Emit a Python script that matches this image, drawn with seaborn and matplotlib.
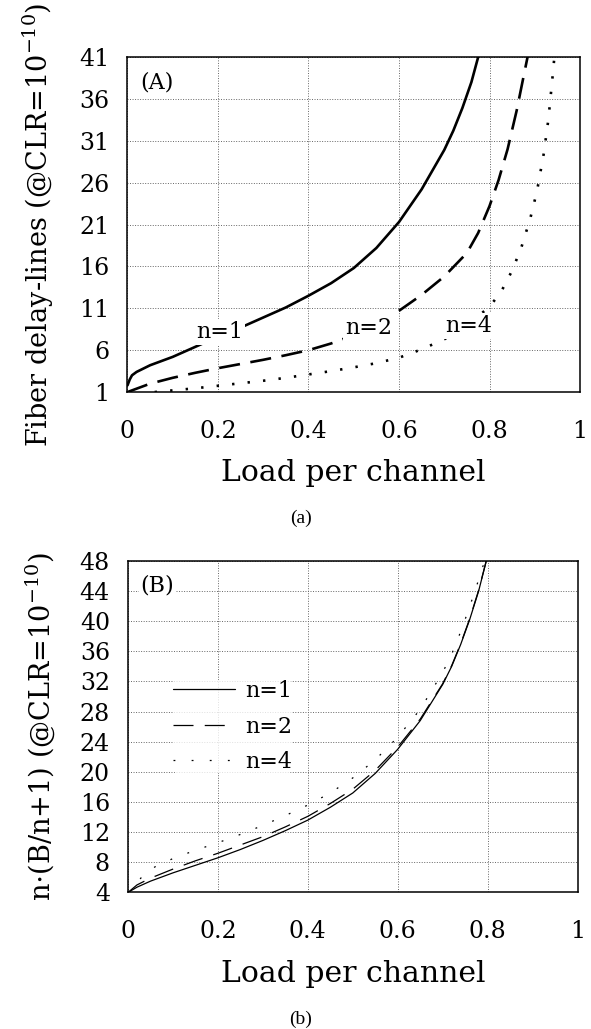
import numpy as np
import pandas as pd
import matplotlib
matplotlib.use("Agg")
import matplotlib.pyplot as plt
import seaborn as sns

# ---------------- data ----------------
ticks_x = [0, 0.2, 0.4, 0.6, 0.8, 1]
ticklabels_x = ["0", "0.2", "0.4", "0.6", "0.8", "1"]
ticks_a = [1, 6, 11, 16, 21, 26, 31, 36, 41]
ticks_b = [4, 8, 12, 16, 20, 24, 28, 32, 36, 40, 44, 48]

# Panel (A): fiber delay-lines vs load
a_x_n1 = [0, 0.005, 0.01, 0.02, 0.035, 0.05, 0.075, 0.1, 0.125, 0.15, 0.2, 0.25,
          0.3, 0.35, 0.4, 0.45, 0.5, 0.55, 0.6, 0.65, 0.7, 0.72, 0.74, 0.76, 0.775]
a_y_n1 = [1.8, 2.5, 3.0, 3.4, 3.8, 4.2, 4.7, 5.2, 5.8, 6.4, 7.6, 8.7,
          9.9, 11.1, 12.5, 14.0, 15.8, 18.2, 21.3, 25.2, 29.9, 32.2, 34.9, 38.0, 41.0]
a_x_n2 = [0, 0.05, 0.1, 0.15, 0.2, 0.25, 0.3, 0.35, 0.4, 0.45, 0.5, 0.55, 0.6,
          0.65, 0.7, 0.75, 0.775, 0.8, 0.82, 0.84, 0.86, 0.875, 0.886]
a_y_n2 = [1.0, 2.0, 2.7, 3.3, 3.85, 4.35, 4.85, 5.4, 6.0, 6.8, 7.8, 9.1, 10.7,
          12.6, 14.8, 17.6, 20.0, 23.2, 26.3, 30.0, 34.6, 38.6, 41.5]
a_x_n4 = [0.06, 0.1, 0.15, 0.2, 0.25, 0.3, 0.35, 0.4, 0.45, 0.5, 0.55, 0.6, 0.65,
          0.7, 0.75, 0.8, 0.825, 0.85, 0.87, 0.89, 0.905, 0.92, 0.93, 0.94, 0.945]
a_y_n4 = [1.0, 1.2, 1.45, 1.75, 2.05, 2.35, 2.7, 3.1, 3.5, 3.95, 4.45, 5.1, 6.1,
          7.3, 8.9, 11.2, 12.9, 15.5, 18.2, 21.7, 25.0, 29.5, 33.5, 39.0, 42.0]

# Panel (B): n*(B/n+1) vs load
b_x = [0, 0.02, 0.05, 0.1, 0.15, 0.2, 0.25, 0.3, 0.35, 0.4, 0.45, 0.5, 0.55,
       0.6, 0.65, 0.7, 0.72, 0.74, 0.76, 0.78, 0.797]
b_y_n1 = [4, 4.7, 5.5, 6.6, 7.6, 8.6, 9.7, 10.9, 12.2, 13.6, 15.3, 17.2, 19.8,
          23.0, 26.8, 31.6, 34.0, 36.9, 40.2, 44.0, 48.0]
b_y_n2 = [4, 5.0, 5.9, 7.1, 8.2, 9.2, 10.3, 11.4, 12.7, 14.1, 15.8, 17.7, 20.2,
          23.3, 27.0, 31.7, 34.1, 37.0, 40.3, 44.1, 48.0]
b_x_n4 = [0, 0.03, 0.06, 0.1, 0.15, 0.2, 0.25, 0.3, 0.35, 0.4, 0.45, 0.5, 0.55,
          0.6, 0.65, 0.7, 0.72, 0.74, 0.76, 0.78, 0.795]
b_y_n4 = [4, 6.0, 7.4, 8.5, 9.6, 10.6, 11.7, 12.9, 14.2, 15.6, 17.2, 19.2, 21.6,
          24.6, 28.3, 33.2, 35.6, 38.6, 41.9, 45.5, 48.3]

series_labels = ["n=1", "n=2", "n=4"]

# ---------------- style ----------------
sns.set_theme(style="white")
plt.rcParams["font.family"] = ["DejaVu Serif"]
plt.rcParams["mathtext.fontset"] = "dejavuserif"
plt.rcParams["text.color"] = "black"
plt.rcParams["axes.labelcolor"] = "black"
plt.rcParams["xtick.color"] = "black"
plt.rcParams["ytick.color"] = "black"
plt.rcParams["axes.edgecolor"] = "black"
plt.rcParams["axes.linewidth"] = 1.1

fig = plt.figure(figsize=(5.91, 10.29), dpi=100)
ax1 = fig.add_axes([0.2157, 0.6190, 0.7657, 0.3256])
ax2 = fig.add_axes([0.2166, 0.1327, 0.7606, 0.3222])


def style_axes(ax, yticks):
    ax.set_xlim(0, 1)
    ax.set_ylim(yticks[0], yticks[-1])
    ax.set_xticks(ticks_x)
    ax.set_xticklabels(ticklabels_x)
    ax.set_yticks(yticks)
    ax.grid(True, color="0.4", linestyle=(0, (1, 1.6)), linewidth=0.7)
    ax.tick_params(axis="both", direction="out", length=8, width=1.1,
                   labelsize=17, color="black", labelcolor="black")
    ax.tick_params(axis="x", pad=12)
    ax.tick_params(axis="y", pad=5)
    for s in ax.spines.values():
        s.set_visible(True)
        s.set_color("black")
        s.set_linewidth(1.1)
    ax.set_facecolor("white")


# ---------------- panel A ----------------
a_styles = ["-", (0, (8, 4)), (0, (0.9, 5))]
for xs, ys, ls in zip([a_x_n1, a_x_n2, a_x_n4], [a_y_n1, a_y_n2, a_y_n4], a_styles):
    df = pd.DataFrame({"load": xs, "val": ys})
    sns.lineplot(data=df, x="load", y="val", ax=ax1, color="black",
                 linewidth=1.9, linestyle=ls, sort=False, estimator=None,
                 legend=False)
style_axes(ax1, ticks_a)
ax1.set_xlabel("Load per channel", fontsize=21.5, labelpad=12)
ax1.set_ylabel(r"Fiber delay-lines (@CLR=10$^{\mathregular{-10}}$)", fontsize=19.5)
ax1.yaxis.set_label_coords(-0.157, 0.5)

lbl_pos_a = [(0.203, 8.2), (0.533, 8.7), (0.754, 8.9)]
for (tx, ty), lab in zip(lbl_pos_a, series_labels):
    ax1.text(tx, ty, lab, fontsize=16, ha="center", va="center",
             bbox=dict(facecolor="white", edgecolor="none", pad=1.5), zorder=5)
ax1.text(0.064, 37.9, "(A)", fontsize=16, ha="center", va="center", zorder=5)

# ---------------- panel B ----------------
b_styles = ["-", (0, (16, 9)), (0, (1.5, 13))]
for xs, ys, ls, lab in zip([b_x, b_x, b_x_n4], [b_y_n1, b_y_n2, b_y_n4],
                           b_styles, series_labels):
    df = pd.DataFrame({"load": xs, "val": ys})
    sns.lineplot(data=df, x="load", y="val", ax=ax2, color="black",
                 linewidth=0.9, linestyle=ls, sort=False, estimator=None,
                 label=lab, legend=False)
style_axes(ax2, ticks_b)
ax2.set_xlabel("Load per channel", fontsize=21.5, labelpad=12)
ax2.set_ylabel(r"n$\cdot$(B/n+1) (@CLR=10$^{\mathregular{-10}}$)", fontsize=19.5)
ax2.yaxis.set_label_coords(-0.158, 0.5)
leg = ax2.legend(handles=ax2.get_lines()[:3], labels=series_labels,
                 loc="upper left", bbox_to_anchor=(0.10, 0.64), frameon=True,
                 fontsize=16, handlelength=2.8, handletextpad=0.45,
                 labelspacing=0.6, borderpad=0.0, borderaxespad=0.0)
leg.get_frame().set_facecolor("white")
leg.get_frame().set_edgecolor("none")
ax2.text(0.064, 44.8, "(B)", fontsize=16, ha="center", va="center", zorder=5,
         bbox=dict(facecolor="white", edgecolor="none", pad=1.0))

# ---------------- captions ----------------
fig.text(0.509, 1 - 518 / 1029, "(a)", fontsize=14, family="Liberation Serif",
         ha="center", va="center")
fig.text(0.509, 1 - 1019 / 1029, "(b)", fontsize=14, family="Liberation Serif",
         ha="center", va="center")

fig.savefig("out.png", dpi=100, facecolor="white")
